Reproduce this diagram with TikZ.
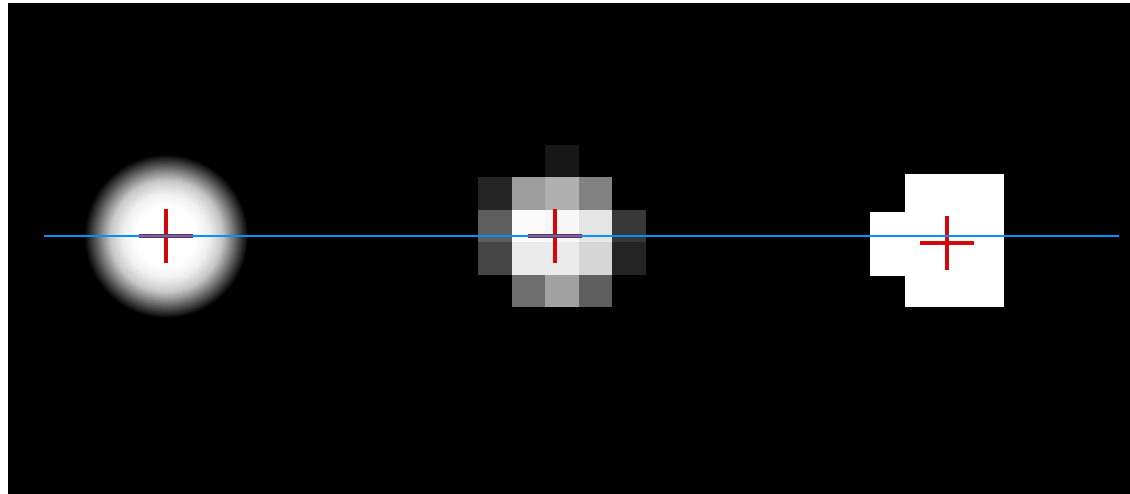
\documentclass[tikz,border=0pt]{standalone}
\usetikzlibrary{positioning}
\definecolor{markred}{RGB}{212,8,8}
\definecolor{rowblue}{RGB}{0,145,255}
% soft spot: white core fading to black at the rim
\pgfdeclareradialshading{blurspot}{\pgfpoint{0bp}{0bp}}{%
  color(0bp)=(white); color(9bp)=(white); color(13bp)=(white!94!black);
  color(17bp)=(white!78!black); color(20bp)=(white!50!black);
  color(23bp)=(white!20!black); color(25bp)=(black); color(50bp)=(black)}

\begin{document}
\begin{tikzpicture}[
    x=1pt, y=-1pt,
    centremark/.style={draw=markred, line width=4pt},
    scanline/.style={draw=rowblue, line width=2pt}
]
    \useasboundingbox (0,0) rectangle (1130,494);
    \fill[white] (0,0) rectangle (1130,494);
    \fill[black] (8,3) rectangle (1130,494);

    % Blurred spot
    \coordinate (spotA) at (166,236);
    \shade[shading=blurspot] (spotA) circle (82);

    % Pixelated spot
    \coordinate (spotB) at (555,236);
    \foreach \col/\row/\lev in {2/0/9,
        0/1/14, 1/1/61, 2/1/69, 3/1/51,
        0/2/37, 1/2/98, 2/2/97, 3/2/90, 4/2/22,
        0/3/27, 1/3/92, 2/3/92, 3/3/84, 4/3/14,
        1/4/43, 2/4/63, 3/4/37}
        \fill[white!\lev!black] (478+33.6*\col,145+32.5*\row) rectangle ++(33.6,32.5);

    % Thresholded spot
    \coordinate (spotC) at (947,243);
    \fill[white] (905,174) rectangle (1004,307);
    \fill[white] (870,212) rectangle (905,276);

    % Centre marks
    \foreach \spot in {spotA,spotB,spotC}
        \draw[centremark] (\spot) ++(-27,0) -- ++(54,0) (\spot) ++(0,-27) -- ++(0,54);

    % Reference row
    \coordinate (rowstart) at (44,236);
    \coordinate (rowend) at (1119,236);
    \draw[scanline] (rowstart) -- (rowend);
\end{tikzpicture}
\end{document}
